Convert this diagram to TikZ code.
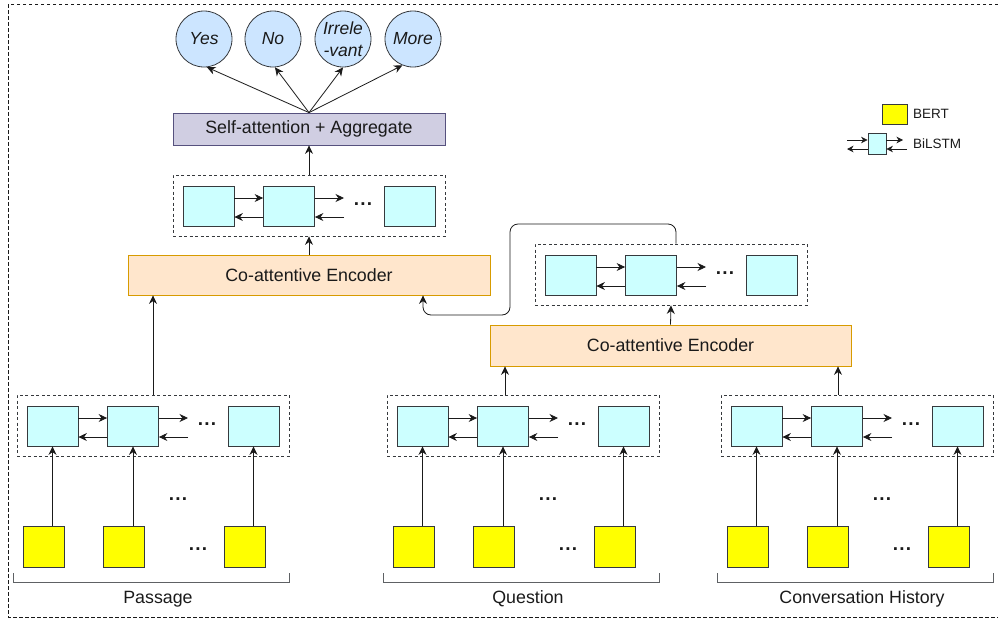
\documentclass[tikz,border=0pt]{standalone}
\usepackage{fontspec}
\setmainfont{Liberation Sans}
\usetikzlibrary{arrows.meta,calc}
\definecolor{cellfill}{HTML}{CCFFFF}
\definecolor{cellline}{HTML}{36393D}
\definecolor{bertfill}{HTML}{FFFF00}
\definecolor{cofill}{HTML}{FFE6CC}
\definecolor{coline}{HTML}{D79B00}
\definecolor{safill}{HTML}{D0CEE2}
\definecolor{saline}{HTML}{56517E}
\definecolor{circfill}{HTML}{CCE5FF}
\definecolor{ink}{HTML}{1A1A1A}
\tikzset{
  every node/.style={font=\fontsize{17.8}{21}\selectfont, text=ink},
  cell/.style={draw=cellline, fill=cellfill, line width=0.8pt, inner sep=0pt, minimum width=51pt, minimum height=40pt},
  bert/.style={draw=cellline, fill=bertfill, line width=0.8pt, inner sep=0pt, minimum width=41pt, minimum height=41pt},
  grp/.style={draw=cellline, dash pattern=on 3pt off 2.5pt, line width=0.8pt, inner sep=0pt},
  coenc/.style={draw=coline, fill=cofill, line width=0.8pt, inner sep=0pt, minimum width=362pt, minimum height=40pt},
  sabox/.style={draw=saline, fill=safill, line width=0.8pt, inner sep=0pt, minimum width=272pt, minimum height=32pt},
  outc/.style={circle, draw=cellline, fill=circfill, line width=0.8pt, inner sep=0pt, minimum size=56pt, font=\fontsize{17.5}{24}\selectfont\itshape, align=center},
  arr/.style={draw=ink, line width=0.8pt, -{Stealth[length=8.5pt,width=8pt,inset=2.8pt]}},
  brk/.style={draw=cellline!80, line width=0.8pt},
  dots/.style={inner sep=0pt, font=\fontsize{19}{21}\selectfont\bfseries},
  legend/.style={font=\fontsize{13.5}{16}\selectfont, anchor=west, inner sep=0pt}
}
\newcommand\lstmrow[3]{%
  \begin{scope}[shift={(#2,#3)}]
    \node[grp, minimum width=272pt, minimum height=61pt] (#1g) at (153,425.5) {};
    \node[cell] (#1a) at (52.5,426) {};
    \node[cell] (#1b) at (133,426) {};
    \node[cell] (#1c) at (253.5,426) {};
    \coordinate (#1p) at (188,418);
    \coordinate (#1q) at (188,437);
    \draw[arr] ([yshift=8pt]#1a.east) -- ([yshift=8pt]#1b.west);
    \draw[arr] ([yshift=-11pt]#1b.west) -- ([yshift=-11pt]#1a.east);
    \draw[arr] ([yshift=8pt]#1b.east) -- (#1p);
    \draw[arr] (#1q) -- ([yshift=-11pt]#1b.east);
    \node[dots] (#1d) at (207,424) {.\kern1.2pt.\kern1.2pt.};
  \end{scope}}
\newcommand\bertrow[4]{%
  \begin{scope}[shift={(#2,0)}]
    \node[bert] (#1x) at (43.5,547) {};
    \node[bert] (#1y) at (124,547) {};
    \node[bert] (#1z) at (244.5,547) {};
    \draw[arr] (#3a.south |- #1x.north) -- (#3a.south);
    \draw[arr] (#3b.south |- #1y.north) -- (#3b.south);
    \draw[arr] (#3c.south |- #1z.north) -- (#3c.south);
    \node[dots] (#1m) at (178,499) {.\kern1.2pt.\kern1.2pt.};
    \node[dots] (#1n) at (198,549) {.\kern1.2pt.\kern1.2pt.};
    \coordinate (#1k1) at (13,573);
    \coordinate (#1k2) at (289,573);
    \draw[brk] (#1k1) -- ++(0,9) -| (#1k2);
    \node (#1l) at (158,599) {#4};
  \end{scope}}
\begin{document}
\begin{tikzpicture}[x=1pt,y=-1pt]
\useasboundingbox (0,0) rectangle (998,619);
\draw[dash pattern=on 3.5pt off 2.5pt, line width=0.8pt, draw=ink] (8,4) rectangle (1006,617);

% bottom rows
\lstmrow{p}{0}{0}
\lstmrow{q}{370}{0}
\lstmrow{h}{704}{0}
\bertrow{pb}{0}{p}{Passage}
\bertrow{qb}{370}{q}{Question}
\bertrow{hb}{704}{h}{Conversation History}

% upper rows
\lstmrow{r}{518}{-151}
\lstmrow{u}{156}{-220}

% encoders
\node[coenc] (coA) at (309,275) {Co-attentive Encoder};
\node[coenc, minimum width=361pt, minimum height=41pt] (coB) at (670.5,345.5) {Co-attentive Encoder};
\node[sabox] (sa) at (309,129) {Self-attention + Aggregate};

% outputs
\node[outc] (yes) at (204,39) {Yes};
\node[outc] (no) at (273,39) {No};
\node[outc] (irr) at (343,39) {Irrele\\[-2pt]-vant};
\node[outc] (more) at (413,39) {More};

% connectors
\draw[arr] (pg.north) -- (pg.north |- coA.south);
\draw[arr] ([xshift=-18pt]qg.north) -- ([xshift=-18pt]qg.north |- coB.south);
\draw[arr] ([xshift=-19pt]hg.north) -- ([xshift=-19pt]hg.north |- coB.south);
\draw[arr] (coB.north) -- (rg.south);
\draw[arr] (coA.north) -- (ug.south);
\draw[arr] (ug.north) -- (sa.south);
\coordinate (t1) at (510,224);
\coordinate (t2) at (423,315);
\draw[arr, rounded corners=8pt] ([xshift=5pt]rg.north) |- (t1) |- (t2) -- (t2 |- coA.south);
\draw[arr] (sa.north) -- (yes.276);
\draw[arr] (sa.north) -- (no.274);
\draw[arr] (sa.north) -- (irr.270);
\draw[arr] (sa.north) -- (more.248);

% legend
\node[bert, minimum width=25pt, minimum height=20pt] (lb) at (894.5,114) {};
\node[legend] (lbt) at (913,114) {BERT};
\node[cell, minimum width=18pt, minimum height=21pt] (ll) at (877,143.5) {};
\coordinate (la) at (847,140);
\coordinate (lc) at (847,149);
\coordinate (ld) at (903,140);
\coordinate (le) at (907,149);
\draw[arr, -{Stealth[length=6.5pt,width=6.5pt,inset=2pt]}] (la) -- (la -| ll.west);
\draw[arr, -{Stealth[length=6.5pt,width=6.5pt,inset=2pt]}] (lc -| ll.west) -- (lc);
\draw[arr, -{Stealth[length=6.5pt,width=6.5pt,inset=2pt]}] (ld -| ll.east) -- (ld);
\draw[arr, -{Stealth[length=6.5pt,width=6.5pt,inset=2pt]}] (le) -- (le -| ll.east);
\node[legend] (llt) at (913,144) {BiLSTM};
\end{tikzpicture}
\end{document}
